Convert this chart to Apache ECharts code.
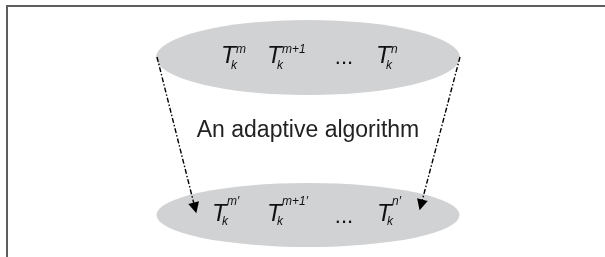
<!DOCTYPE html>
<html>
<head>
<meta charset="utf-8">
<script src="https://cdn.jsdelivr.net/npm/echarts@6/dist/echarts.min.js"></script>
<style>
  html, body { margin: 0; padding: 0; background: #fff; }
  #main { width: 605px; height: 257px; }
</style>
</head>
<body>
<div id="main"></div>
<script>
// diagram content
const caption = 'An adaptive algorithm';
const topSups = ['m', 'm+1', 'n'];
const bottomSups = ['m\u2032', 'm+1\u2032', 'n\u2032'];
const subLabel = 'k';

// layout in pixel-like data units (x: 0..605, y: 0..257 downwards)
const ellipseCenters = [[308, 57.5], [308, 215]];
const ellipseSizes = [[304, 75], [303, 64]];
const topTermX = [221, 267, 376];
const bottomTermX = [212, 267, 377];
const rowY = [56, 214.5];
const dotsX = [344, 344];
const arrowLines = [
    [[157, 57], [195, 208]],
    [[460, 57], [421, 205]]
];
const framePath = [[7, 257], [7, 6], [605, 6]];
const captionPos = [308, 131];

let chartDom = document.getElementById('main');
let myChart = echarts.init(chartDom);

const font = 'Liberation Sans, Arial, sans-serif';
const supDy = [-6, -13];
const subDy = [10, 7];

function textItem(x, y, text, size, italic, align) {
    return {
        value: [x, y],
        label: {
            show: true,
            position: [0, 0],
            formatter: text,
            fontSize: size,
            fontStyle: italic ? 'italic' : 'normal',
            fontFamily: font,
            color: '#111',
            align: align || 'left',
            verticalAlign: 'middle'
        }
    };
}

let texts = [];
[topTermX, bottomTermX].forEach(function (xs, r) {
    let sups = r === 0 ? topSups : bottomSups;
    xs.forEach(function (x, i) {
        texts.push(textItem(x, rowY[r], 'T', 24, true));
        texts.push(textItem(x + 15, rowY[r] + supDy[r], sups[i], 12, true));
        texts.push(textItem(x + 10, rowY[r] + subDy[r], subLabel, 12, true));
    });
    texts.push(textItem(dotsX[r], rowY[r] + 2, '...', 22, false, 'center'));
});
texts.push(textItem(captionPos[0], captionPos[1], caption, 23, false, 'center'));
texts[texts.length - 1].label.color = '#222';

let option = {
    animation: false,
    grid: { left: 0, right: 0, top: 0, bottom: 0 },
    xAxis: { type: 'value', min: 0, max: 605, show: false },
    yAxis: { type: 'value', min: 0, max: 257, inverse: true, show: false },
    series: [
        {
            type: 'scatter',
            silent: true,
            z: 1,
            symbol: 'circle',
            data: ellipseCenters.map(function (c, i) {
                return { value: c, symbolSize: ellipseSizes[i] };
            }),
            itemStyle: { color: '#d1d2d4', opacity: 1 }
        },
        {
            type: 'lines',
            coordinateSystem: 'cartesian2d',
            polyline: true,
            silent: true,
            z: 2,
            data: [{ coords: framePath }],
            lineStyle: { color: '#5e5e5e', width: 2, opacity: 1 }
        },
        {
            type: 'lines',
            coordinateSystem: 'cartesian2d',
            silent: true,
            z: 3,
            symbol: ['none', 'triangle'],
            symbolSize: 11,
            data: arrowLines.map(function (l) { return { coords: l }; }),
            lineStyle: { color: '#000', width: 1.4, type: [5, 2, 1.5, 2], opacity: 1 }
        },
        {
            type: 'scatter',
            silent: true,
            z: 4,
            symbolSize: 0,
            itemStyle: { opacity: 1 },
            data: texts
        }
    ]
};
option && myChart.setOption(option);
</script>
</body>
</html>
